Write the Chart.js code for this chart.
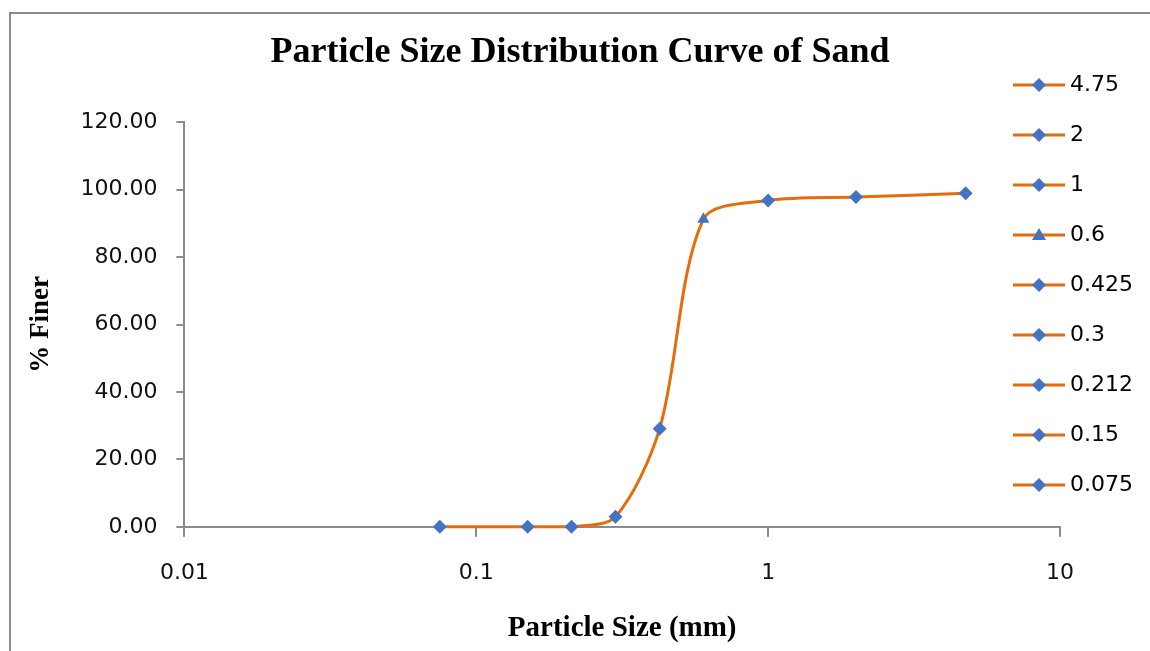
<!DOCTYPE html>
<html>
<head>
<meta charset="utf-8">
<title>Particle Size Distribution Curve of Sand</title>
<script src="https://cdn.jsdelivr.net/npm/chart.js@4.4.1/dist/chart.umd.min.js"></script>
<style>
  html, body { margin: 0; padding: 0; background: #fff; }
  #wrap { position: relative; width: 1150px; height: 651px; overflow: hidden; }
  #frame { position: absolute; left: 9px; top: 12px; width: 1160px; height: 660px; border: 2px solid #8c8c8c; box-sizing: border-box; }
  #chart { position: absolute; left: 0; top: 0; }
</style>
</head>
<body>
<div id="wrap">
  <div id="frame"></div>
  <canvas id="chart" width="1150" height="651"></canvas>
</div>
<script>
// sieve sizes (mm) and % finer
const sizes = [0.075, 0.15, 0.212, 0.3, 0.425, 0.6, 1, 2, 4.75];
const finer = [0, 0, 0, 3.0, 29.1, 91.2, 96.8, 97.8, 98.9];
const markers = ["rectRot", "rectRot", "rectRot", "rectRot", "rectRot", "triangle", "rectRot", "rectRot", "rectRot"];

// legend lists the sizes from coarse to fine
const legendSizes = [4.75, 2, 1, 0.6, 0.425, 0.3, 0.212, 0.15, 0.075];

const xTicks = [0.01, 0.1, 1, 10];
const yTicks = [0, 20, 40, 60, 80, 100, 120];

const lineColor = "#E46C0A";
const markerColor = "#4473C5";
const axisColor = "#8c8c8c";
const tickFont = { family: "DejaVu Sans", size: 22 };
const serifBold = size => ({ family: "Liberation Serif", size: size, weight: "bold" });

// little line + marker picture for each legend entry
function legendKey(style) {
  const c = document.createElement("canvas");
  c.width = 52;
  c.height = 18;
  const g = c.getContext("2d");
  g.strokeStyle = lineColor;
  g.lineWidth = 3;
  g.beginPath();
  g.moveTo(0, 9);
  g.lineTo(52, 9);
  g.stroke();
  g.fillStyle = markerColor;
  g.beginPath();
  if (style === "triangle") {
    g.moveTo(26, 2);
    g.lineTo(33, 14);
    g.lineTo(19, 14);
  } else {
    g.moveTo(26, 2);
    g.lineTo(33, 9);
    g.lineTo(26, 16);
    g.lineTo(19, 9);
  }
  g.closePath();
  g.fill();
  return c;
}

// Excel lets the legend sit over the plot area and centres the title on the
// whole frame, so move both after layout
const placeBoxes = {
  id: "placeBoxes",
  afterLayout(chart) {
    const lg = chart.legend;
    lg.left = 991;
    lg.right = 1150;
    lg.top = 46;
    lg.bottom = 600;
    lg.width = lg.right - lg.left;
    lg.height = lg.bottom - lg.top;

    const t = chart.titleBlock;
    t.left = 10;
    t.right = 1150;
    t.width = t.right - t.left;
  }
};

const ctx = document.getElementById("chart").getContext("2d");

new Chart(ctx, {
  type: "line",
  data: {
    datasets: [
      {
        data: sizes.map((s, i) => ({ x: s, y: finer[i] })),
        borderColor: lineColor,
        borderWidth: 3,
        tension: 0.3,
        pointStyle: markers,
        pointRadius: 7,
        pointBackgroundColor: markerColor,
        pointBorderColor: markerColor,
        pointBorderWidth: 0,
        clip: false
      }
    ]
  },
  options: {
    responsive: false,
    animation: false,
    layout: { padding: { left: 8, right: 89, top: 0, bottom: 0 } },
    plugins: {
      title: {
        display: true,
        text: "Particle Size Distribution Curve of Sand",
        color: "#000",
        font: serifBold(36),
        padding: { top: 31, bottom: 48 }
      },
      legend: {
        position: "right",
        align: "start",
        maxWidth: 1,
        labels: {
          usePointStyle: true,
          pointStyleWidth: 40,
          padding: 28,
          color: "#111",
          font: tickFont,
          generateLabels: () =>
            legendSizes.map(s => ({
              text: String(s),
              pointStyle: legendKey(markers[sizes.indexOf(s)]),
              fillStyle: markerColor,
              strokeStyle: lineColor,
              lineWidth: 0,
              hidden: false,
              datasetIndex: 0
            }))
        }
      },
      tooltip: { enabled: false }
    },
    scales: {
      x: {
        type: "logarithmic",
        min: 0.01,
        max: 10,
        afterBuildTicks: scale => {
          scale.ticks = xTicks.map(v => ({ value: v }));
        },
        ticks: {
          autoSkip: false,
          maxRotation: 0,
          padding: 23,
          color: "#111",
          font: tickFont,
          callback: v => String(v)
        },
        grid: { drawOnChartArea: false, tickLength: 10, color: axisColor, lineWidth: 2 },
        border: { color: axisColor, width: 2 },
        title: {
          display: true,
          text: "Particle Size (mm)",
          color: "#000",
          font: serifBold(29),
          padding: { top: 2, bottom: 5 }
        }
      },
      y: {
        min: 0,
        max: 120,
        afterBuildTicks: scale => {
          scale.ticks = yTicks.map(v => ({ value: v }));
        },
        ticks: {
          padding: 19,
          color: "#111",
          font: tickFont,
          callback: v => v.toFixed(2)
        },
        grid: { drawOnChartArea: false, tickLength: 8, color: axisColor, lineWidth: 2 },
        border: { color: axisColor, width: 2 },
        title: {
          display: true,
          text: "% Finer",
          color: "#000",
          font: serifBold(27),
          padding: { top: 17, bottom: 4 }
        }
      }
    }
  },
  plugins: [placeBoxes]
});
</script>
</body>
</html>
